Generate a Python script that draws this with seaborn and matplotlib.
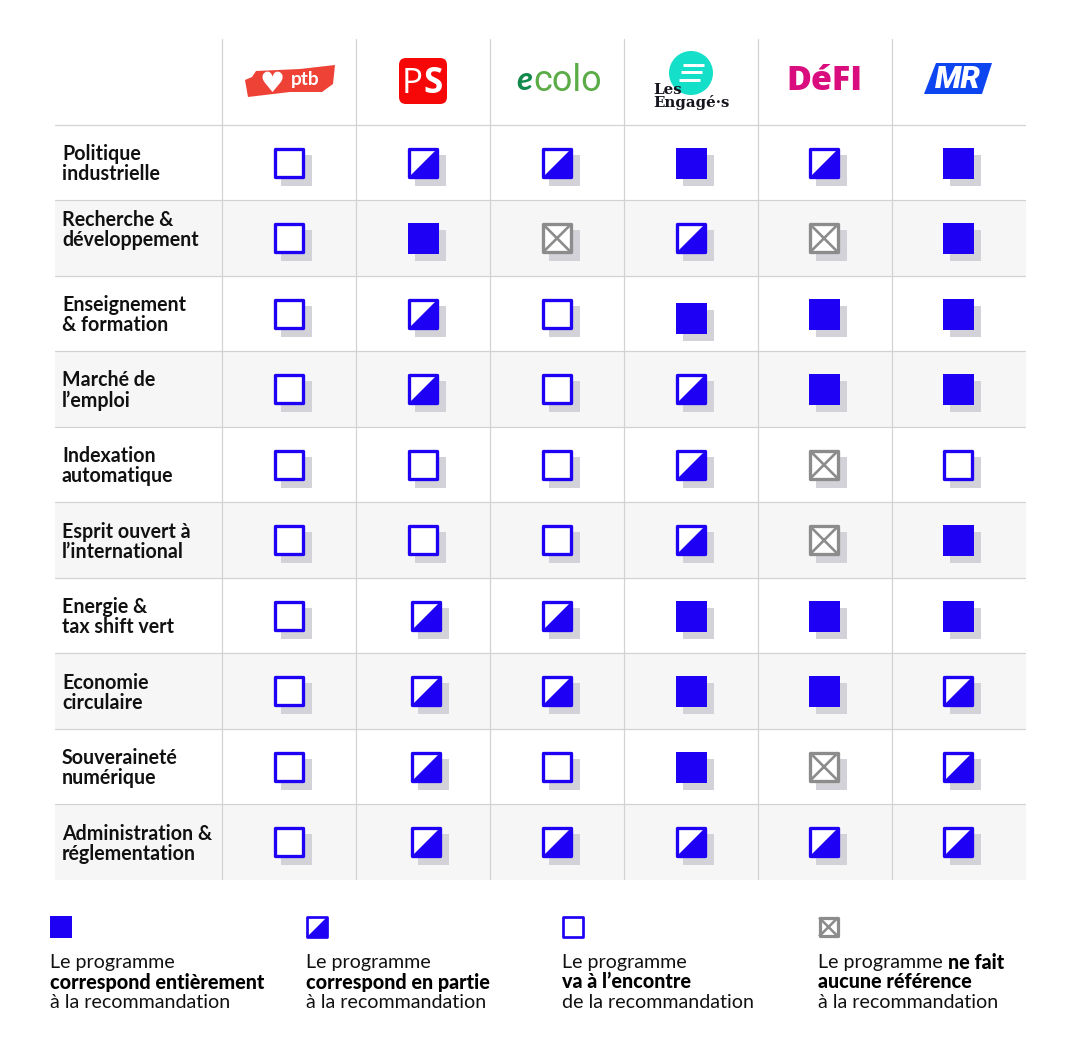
import matplotlib
matplotlib.use('Agg')
import matplotlib.pyplot as plt
import pandas as pd
import seaborn as sns
from matplotlib.patches import Circle, FancyBboxPatch, Polygon
from matplotlib.path import Path

# --- Données ---
partis = ['PTB', 'PS', 'Ecolo', 'Les Engagés', 'DéFI', 'MR']
themes = ['Politique\nindustrielle', 'Recherche &\ndéveloppement', 'Enseignement\n& formation',
          'Marché de\nl’emploi', 'Indexation\nautomatique', 'Esprit ouvert à\nl’international',
          'Energie &\ntax shift vert', 'Economie\ncirculaire', 'Souveraineté\nnumérique',
          'Administration &\nréglementation']

# f = entièrement, h = en partie, o = à l'encontre, x = aucune référence
ptb = ['o', 'o', 'o', 'o', 'o', 'o', 'o', 'o', 'o', 'o']
ps = ['h', 'f', 'h', 'h', 'o', 'o', 'h', 'h', 'h', 'h']
ecolo = ['h', 'x', 'o', 'o', 'o', 'o', 'h', 'h', 'o', 'h']
engages = ['f', 'h', 'f', 'h', 'h', 'h', 'f', 'f', 'f', 'h']
defi = ['h', 'x', 'f', 'f', 'x', 'x', 'f', 'f', 'x', 'h']
mr = ['f', 'f', 'f', 'f', 'o', 'f', 'f', 'h', 'h', 'h']
colonnes = [ptb, ps, ecolo, engages, defi, mr]

legende_x = [50, 306, 562, 818]
legende_statut = ['f', 'h', 'o', 'x']
legende_l1 = ['Le programme', 'Le programme', 'Le programme', 'Le programme ']
legende_l1_gras = ['', '', '', 'ne fait']
legende_l2 = ['correspond entièrement', 'correspond en partie', 'va à l’encontre', 'aucune référence']
legende_l3 = ['à la recommandation', 'à la recommandation', 'de la recommandation', 'à la recommandation']

# --- Couleurs / tailles (px, figure à dpi 100) ---
BLEU = '#1e00f5'
GRIS_X = '#8c8c8c'
OMBRE = '#d2d2d8'
LIGNE = '#d2d2d2'
BANDE = '#f6f6f6'
PX = 0.72
COL_W = 134.0
ROW_H = 75.5

sns.set_theme(style='white')
plt.rcParams['font.family'] = ['Lato', 'DejaVu Sans']

df = pd.DataFrame([
    {'col': c, 'row': r, 'statut': s}
    for c, statuts in enumerate(colonnes) for r, s in enumerate(statuts)
])
# petits décalages visibles sur l'original
decal_col = [0, 0, 0, -0.5, -1, -1.5]
df['dx'] = [(decal_col[c] + (2.5 if c == 1 and r >= 6 else 0)) / COL_W for c, r in zip(df['col'], df['row'])]
df['dy'] = [4 / ROW_H if c == 3 and r == 2 else 0 for c, r in zip(df['col'], df['row'])]
df['x'] = df['col'] + df['dx']
df['y'] = df['row'] + df['dy']

fig = plt.figure(figsize=(10.8, 10.5), dpi=100)
ax = fig.add_axes([55 / 1080, 1 - 880 / 1050, 971 / 1080, 841 / 1050])
ax.set_xlim(-0.5 - 167 / COL_W, 5.5)
ax.set_ylim(9.5, -0.5 - 86 / ROW_H)
ax.axis('off')

TRIANGLE = Path([(-.5, -.5), (.5, -.5), (.5, .5), (-.5, -.5)], closed=True)
CROIX = Path([(-.5, -.5), (.5, .5), (-.5, .5), (.5, -.5)],
             [Path.MOVETO, Path.LINETO, Path.MOVETO, Path.LINETO])


def carres(axe, x, y, statut, taille, trait=3.3, zorder=5):
    """Dessine un symbole de statut, taille = côté extérieur en px."""
    cote = (taille - trait) * PX
    kw = dict(x=x, y=y, ax=axe, zorder=zorder, legend=False, clip_on=False)
    if statut == 'f':
        sns.scatterplot(marker='s', s=(taille * PX) ** 2, color=BLEU, linewidth=0, **kw)
        return
    couleur = GRIS_X if statut == 'x' else BLEU
    sns.scatterplot(marker='s', s=cote ** 2, color='white', edgecolor=couleur,
                    linewidth=trait * PX, **kw)
    if statut == 'h':
        sns.scatterplot(marker=TRIANGLE, s=cote ** 2, color=BLEU, linewidth=0, **kw)
    if statut == 'x':
        sns.scatterplot(marker=CROIX, s=cote ** 2, color='none', edgecolor=couleur,
                        linewidth=trait * 0.8 * PX, **kw)


# bandes et filets
for r in range(1, 10, 2):
    ax.axhspan(r - 0.5, r + 0.5, color=BANDE, zorder=0, lw=0)
for r in range(0, 10):
    ax.axhline(r - 0.5, color=LIGNE, lw=1.2 * PX, zorder=1)
for c in range(0, 6):
    ax.axvline(c - 0.5, color=LIGNE, lw=1.2 * PX, zorder=1)

# ombres
sns.scatterplot(data=df.assign(x=df['x'] + 7 / COL_W, y=df['y'] + 7 / ROW_H), x='x', y='y',
                marker='s', s=(31 * PX) ** 2, color=OMBRE, linewidth=0, ax=ax, zorder=3, legend=False)

# symboles, un appel par statut
for statut, groupe in df.groupby('statut'):
    taille = 31 if statut == 'f' else 31.5
    carres(ax, groupe['x'].values, groupe['y'].values, statut, taille)

ax.set_xlabel('')
ax.set_ylabel('')

# libellés de lignes
for r, theme in enumerate(themes):
    decal = -8 if r == 1 else 1.5
    ax.annotate(theme, xy=(-0.5 - 160 / COL_W, r + decal / ROW_H), fontsize=19.6 * PX,
                fontweight='bold', va='center', ha='left', linespacing=1.02, color='#111111')

# --- Couche en pixels : logos et légende ---
ov = fig.add_axes([0, 0, 1, 1], zorder=10)
ov.set_xlim(0, 1080)
ov.set_ylim(1050, 0)
ov.axis('off')
ov.patch.set_alpha(0)

# PTB
ov.add_patch(Polygon([(245, 80), (252, 77), (256, 71), (300, 69), (335, 65), (333, 84),
                      (322, 92), (290, 92), (248, 97)],
                     closed=True, color='#ee4237', lw=0))
ov.text(272, 92, '♥', color='white', fontsize=28 * PX, ha='center', va='baseline', family='DejaVu Sans')
ov.text(305, 79, 'ptb', color='white', fontsize=19 * PX, ha='center', va='center', fontweight='bold')

# PS
ov.add_patch(FancyBboxPatch((403, 62), 40, 38, boxstyle='round,pad=4,rounding_size=7',
                            color='#f70808', lw=0))
ov.text(402, 93, 'P', color='white', fontsize=35 * PX, ha='left', va='baseline', family='Open Sans')
ov.text(423, 93, 'S', color='white', fontsize=35 * PX, ha='left', va='baseline',
        family='Open Sans', fontweight='bold')

# Ecolo
ov.text(524, 81, 'e', color='#138a4d', fontsize=33 * PX, ha='center', va='center',
        fontweight='bold', style='italic')
ov.text(533, 81, 'colo', color='#5bab46', fontsize=36 * PX, ha='left', va='center', family='Roboto')

# Les Engagés
ov.add_patch(Circle((691, 73), 22, color='#14dfc8', lw=0))
for decal_x, yy in [(2, 65), (0, 72), (-2, 80)]:
    ov.plot([681 + decal_x, 702 + decal_x], [yy, yy], color='white', lw=3 * PX, solid_capstyle='butt')
ov.text(653, 90.5, 'Les', color='#15151f', fontsize=15 * PX, ha='left', va='center',
        family='DejaVu Serif', fontweight='bold')
ov.text(653, 103, 'Engagé·s', color='#15151f', fontsize=15 * PX, ha='left', va='center',
        family='DejaVu Serif', fontweight='bold')

# DéFI
ov.text(824, 81, 'DéFI', color='#d90d7d', fontsize=34 * PX, ha='center', va='center',
        family='Open Sans', fontweight=800)

# MR
ov.add_patch(Polygon([(924, 94), (936, 63), (992, 63), (982, 94)], closed=True, color='#0d46f0', lw=0))
ov.text(958, 79, 'MR', color='white', fontsize=31 * PX, ha='center', va='center',
        family='Roboto', fontweight='black', style='italic')

# Légende
for lx, st, l1, l1g, l2, l3 in zip(legende_x, legende_statut, legende_l1, legende_l1_gras,
                                   legende_l2, legende_l3):
    carres(ov, [lx + 10.5], [927], st, 22, trait=3.2 if st == 'x' else 2.7)
    t = ov.text(lx, 962.5, l1, fontsize=19.7 * PX, va='center', ha='left', color='#111111')
    if l1g:
        ov.annotate(l1g, xy=(1, 0.5), xycoords=t, fontsize=19.8 * PX, fontweight='black',
                    va='center', ha='left', color='#000000')
    ov.text(lx, 982, l2, fontsize=19.8 * PX, va='center', ha='left', color='#000000', fontweight='black')
    ov.text(lx, 1002.5, l3, fontsize=19.7 * PX, va='center', ha='left', color='#111111')

fig.savefig('out.png', dpi=100, facecolor='white')
